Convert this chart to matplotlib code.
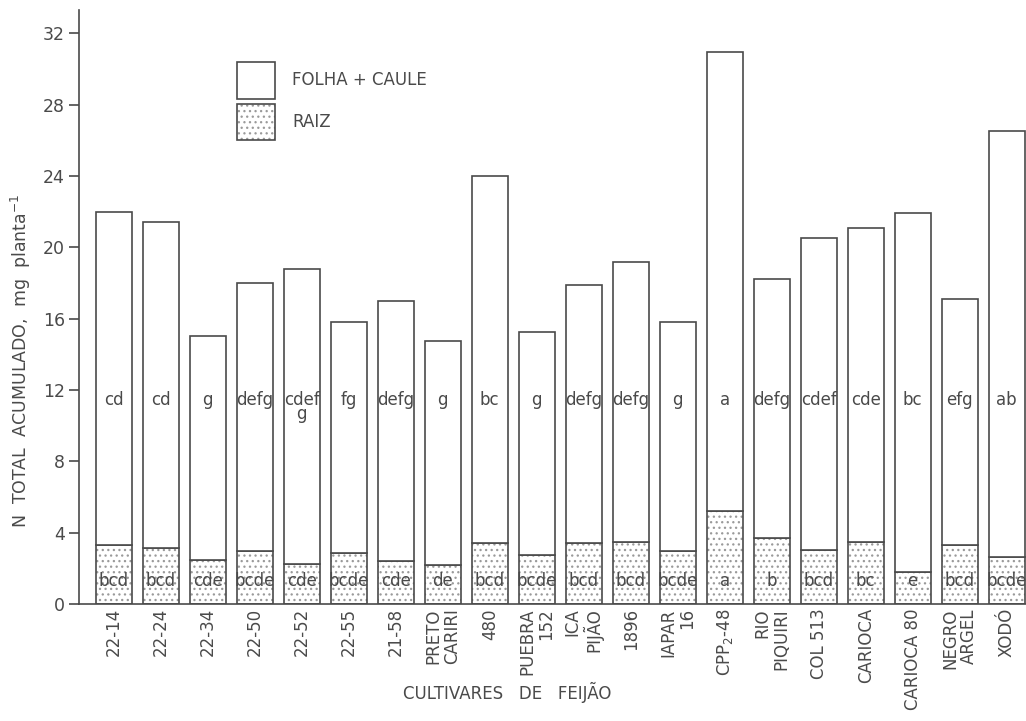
import matplotlib.pyplot as plt
from matplotlib.patches import Patch

# N total acumulado (mg planta-1) por cultivar de feijão
cultivares = ['22-14', '22-24', '22-34', '22-50', '22-52', '22-55', '21-58',
              'PRETO\nCARIRI', '480', 'PUEBRA\n152', 'ICA\nPIJÃO', '1896',
              'IAPAR\n16', 'CPP$_2$-48', 'RIO\nPIQUIRI', 'COL 513', 'CARIOCA',
              'CARIOCA 80', 'NEGRO\nARGEL', 'XODÓ']
total = [22.0, 21.4, 15.0, 18.0, 18.8, 15.8, 17.0, 14.75, 24.0, 15.25,
         17.9, 19.2, 15.8, 30.95, 18.2, 20.5, 21.1, 21.9, 17.1, 26.5]
raiz = [3.3, 3.15, 2.45, 2.95, 2.25, 2.85, 2.4, 2.2, 3.4, 2.75,
        3.4, 3.5, 2.95, 5.2, 3.7, 3.05, 3.45, 1.8, 3.3, 2.65]
letras_parte_aerea = ['cd', 'cd', 'g', 'defg', 'cdef\ng', 'fg', 'defg', 'g', 'bc', 'g',
                      'defg', 'defg', 'g', 'a', 'defg', 'cdef', 'cde', 'bc', 'efg', 'ab']
letras_raiz = ['bcd', 'bcd', 'cde', 'bcde', 'cde', 'bcde', 'cde', 'de', 'bcd', 'bcde',
               'bcd', 'bcd', 'bcde', 'a', 'b', 'bcd', 'bc', 'e', 'bcd', 'bcde']

cor = '#4a4a4a'
pontilhado = '#9a9a9a'
plt.rcParams['font.family'] = 'DejaVu Sans'
plt.rcParams['hatch.linewidth'] = 0.9

fig = plt.figure(figsize=(10.26, 7.21), dpi=100)
ax = fig.add_axes([0.077, 0.1623, 0.923, 0.8238])

x = list(range(len(cultivares)))
folha_caule = [t - r for t, r in zip(total, raiz)]

# raiz: pontilhado claro + contorno escuro por cima
ax.bar(x, raiz, width=0.77, color='white', edgecolor=pontilhado, linewidth=0,
       hatch='...')
ax.bar(x, raiz, width=0.77, fill=False, edgecolor=cor, linewidth=1.2)
ax.bar(x, folha_caule, bottom=raiz, width=0.77, color='white', edgecolor=cor,
       linewidth=1.2)

# letras de comparação de médias
for i in x:
    ax.text(i, 11.95, letras_parte_aerea[i], ha='center', va='top',
            fontsize=12, color=cor, linespacing=0.75)
    ax.text(i, 1.3, letras_raiz[i], ha='center', va='center', fontsize=12,
            color=cor)

ax.set_xlim(-0.74, 19.41)
ax.set_ylim(0, 33.3)
ax.set_yticks(range(0, 33, 4))
ax.set_xticks(x)
ax.set_xticklabels(cultivares, rotation=90, ha='center', va='top',
                   multialignment='right', linespacing=1.05)
ax.tick_params(axis='x', length=0, pad=3, labelsize=12, colors=cor)
ax.tick_params(axis='y', length=7, width=1.2, labelsize=12.5, colors=cor, pad=3)

ax.spines['top'].set_visible(False)
ax.spines['right'].set_visible(False)
ax.spines['left'].set_color(cor)
ax.spines['bottom'].set_color(cor)
ax.spines['left'].set_linewidth(1.2)
ax.spines['bottom'].set_linewidth(1.2)

fig.text(0.02, 0.50, 'N  TOTAL  ACUMULADO,  mg  planta$^{-1}$', rotation=90,
         ha='center', va='center', fontsize=12.5, color=cor)
fig.text(0.494, 0.039, 'CULTIVARES   DE   FEIJÃO', ha='center', va='center',
         fontsize=12, color=cor)

handles = [Patch(facecolor='white', edgecolor=cor, linewidth=1.2),
           (Patch(facecolor='white', edgecolor=pontilhado, linewidth=0, hatch='...'),
            Patch(fill=False, edgecolor=cor, linewidth=1.2))]
ax.legend(handles, ['FOLHA + CAULE', 'RAIZ'], loc='upper left',
          bbox_to_anchor=(0.167, 0.9125), frameon=False, fontsize=12,
          handlelength=2.3, handleheight=3.0, labelspacing=0.3,
          borderpad=0, borderaxespad=0, handletextpad=1.0, labelcolor=cor)

fig.savefig('out.png', dpi=100, facecolor='white')
